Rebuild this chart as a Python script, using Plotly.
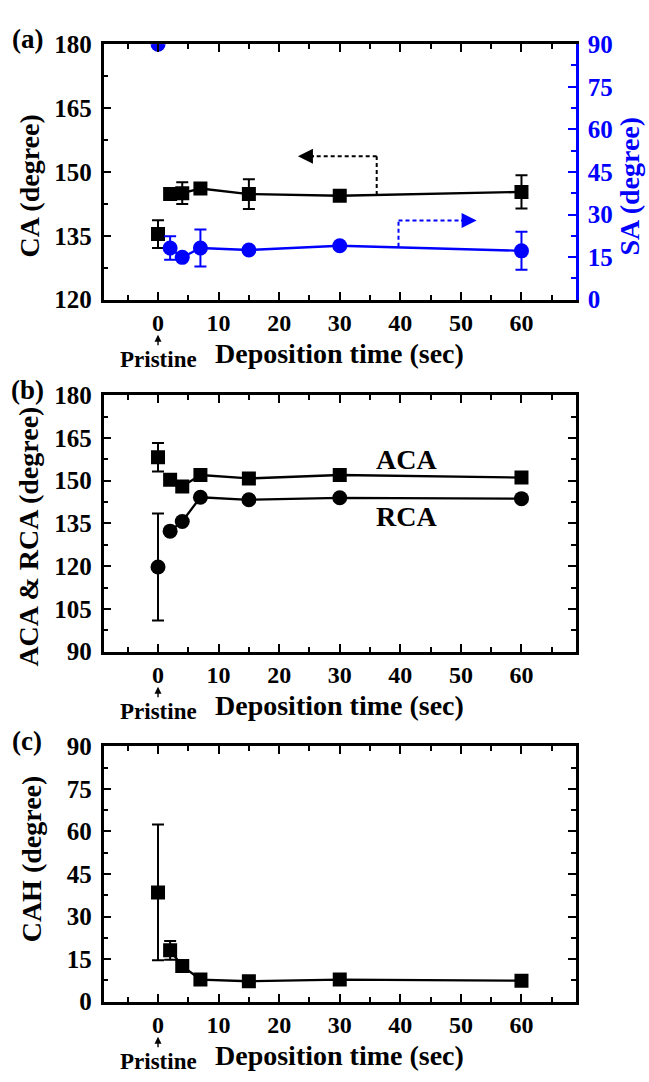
import plotly.graph_objects as go

# ---------------- data ----------------
time = [0, 2, 4, 7, 15, 30, 60]

ca = [135.4, 144.8, 145.0, 146.1, 144.8, 144.4, 145.3]
ca_err = [3.25, 0.8, 2.55, 0.8, 3.5, 0.8, 3.9]
sa = [90.0, 18.2, 14.9, 18.2, 17.5, 19.0, 17.2]
sa_err = [0.0, 4.1, 0.0, 6.5, 0.8, 0.0, 6.7]

aca = [158.2, 150.3, 148.0, 152.0, 150.8, 152.0, 151.1]
aca_err = [5.0, 0.8, 0.8, 0.8, 0.8, 0.8, 1.5]
rca = [119.7, 132.3, 135.7, 144.2, 143.3, 144.0, 143.7]
rca_err = [18.8, 0.5, 0.5, 0.8, 0.5, 0.5, 0.5]

cah = [38.5, 18.1, 12.6, 7.8, 7.2, 7.8, 7.4]
cah_err = [23.9, 3.3, 0.5, 0.5, 0.5, 0.5, 1.8]

x_ticks = [0, 10, 20, 30, 40, 50, 60]

W, H = 649, 1082
FONT = "Liberation Serif, Times New Roman, Times, serif"
BLUE = "#0000FF"


def px(xp):
    return xp / W


def py(yp):
    return 1 - yp / H


XDOM = [px(103.5), px(576)]
DOM_A = [py(294), py(32)]
DOM_B = [py(655), py(392)]
DOM_C = [py(1014), py(752)]
BOTTOMS = [294, 655, 1014]
TOPS = [32, 392, 752]

fig = go.Figure()


def add_series(x, y, err, xa, ya, color, symbol, size):
    # pristine point (not connected)
    fig.add_trace(go.Scatter(
        x=x[:1], y=y[:1], xaxis=xa, yaxis=ya, mode="markers",
        marker=dict(symbol=symbol, size=size, color=color),
        error_y=dict(type="data", array=err[:1], color=color, thickness=2, width=6),
        showlegend=False, cliponaxis=True))
    fig.add_trace(go.Scatter(
        x=x[1:], y=y[1:], xaxis=xa, yaxis=ya, mode="lines+markers",
        line=dict(color=color, width=2.3),
        marker=dict(symbol=symbol, size=size, color=color),
        error_y=dict(type="data", array=err[1:], color=color, thickness=2, width=6),
        showlegend=False, cliponaxis=True))


add_series(time, ca, ca_err, "x", "y", "black", "square", 14)
add_series(time, sa, sa_err, "x", "y2", BLUE, "circle", 15)
add_series(time, aca, aca_err, "x2", "y3", "black", "square", 14)
add_series(time, rca, rca_err, "x2", "y3", "black", "circle", 15)
add_series(time, cah, cah_err, "x3", "y4", "black", "square", 14)

tickfont = dict(family=FONT, size=24, color="black", weight="bold")


def xaxis_cfg(anchor):
    return dict(
        domain=XDOM, anchor=anchor, range=[-9, 69],
        tickmode="array", tickvals=x_ticks, ticktext=[str(v) for v in x_ticks],
        ticks="inside", ticklen=8, tickwidth=2, tickcolor="black",
        minor=dict(ticks="inside", dtick=5, tick0=0, ticklen=5, tickwidth=2, tickcolor="black"),
        showline=True, linecolor="black", linewidth=2.5, mirror="ticks",
        showgrid=False, zeroline=False, tickfont=tickfont, fixedrange=True)


def yaxis_cfg(dom, anchor, rng, mirror=True, color="black"):
    return dict(
        domain=dom, anchor=anchor, range=rng, dtick=15, tick0=rng[0],
        ticks="inside", ticklen=8, tickwidth=2, tickcolor=color,
        minor=dict(ticks="inside", dtick=7.5, tick0=rng[0], ticklen=5, tickwidth=2, tickcolor=color),
        showline=True, linecolor=color, linewidth=2.5,
        mirror="ticks" if mirror else False,
        ticklabelstandoff=4,
        showgrid=False, zeroline=False, tickfont=dict(tickfont, size=25, color=color))


fig.update_layout(
    width=W, height=H, autosize=False,
    margin=dict(l=0, r=0, t=0, b=0, pad=0),
    paper_bgcolor="white", plot_bgcolor="white",
    showlegend=False,
    font=dict(family=FONT),
    xaxis=xaxis_cfg("y"),
    xaxis2=xaxis_cfg("y3"),
    xaxis3=xaxis_cfg("y4"),
    yaxis=yaxis_cfg(DOM_A, "x", [120, 180], mirror=False),
    yaxis2=dict(yaxis_cfg(DOM_A, "x", [0, 90], mirror=False, color=BLUE),
                overlaying="y", side="right"),
    yaxis3=yaxis_cfg(DOM_B, "x2", [90, 180]),
    yaxis4=yaxis_cfg(DOM_C, "x3", [0, 90]),
)

ann = []
title_font = dict(family=FONT, size=28, color="black", weight="bold")
xc = (103.5 + 576) / 2

for i, (xa, bot, top, lab) in enumerate(zip(["x", "x2", "x3"], BOTTOMS, TOPS, ["(a)", "(b)", "(c)"])):
    ann.append(dict(text="Deposition time (sec)", x=px(xc), y=py(bot + 55), xref="paper", yref="paper",
                    xanchor="center", yanchor="middle", showarrow=False, font=title_font))
    ann.append(dict(text="Pristine", x=0, y=py(bot + 61), xref=xa, yref="paper",
                    xanchor="center", yanchor="middle", showarrow=False,
                    font=dict(family=FONT, size=23, color="black", weight="bold")))
    ann.append(dict(text="", x=0, y=py(bot + 36), xref=xa, yref="paper",
                    ax=0, ay=12, axref="pixel", ayref="pixel", showarrow=True,
                    arrowhead=2, arrowsize=1.0, arrowwidth=1.4, arrowcolor="black", standoff=0))
    ann.append(dict(text=lab, x=px(27), y=py(top - 5), xref="paper", yref="paper",
                    xanchor="center", yanchor="middle", showarrow=False,
                    font=dict(family=FONT, size=27, color="black", weight="bold")))

ytitles = [("CA (degree)", 30, 178), ("ACA &amp; RCA (degree)", 29, 537), ("CAH (degree)", 31, 868)]
for t, xp, yp in ytitles:
    ann.append(dict(text=t, x=px(xp), y=py(yp), xref="paper", yref="paper", textangle=-90,
                    xanchor="center", yanchor="middle", showarrow=False, font=title_font))
ann.append(dict(text="SA (degree)", x=px(630), y=py(178), xref="paper", yref="paper", textangle=-90,
                xanchor="center", yanchor="middle", showarrow=False,
                font=dict(title_font, color=BLUE)))

# ACA / RCA labels
ann.append(dict(text="ACA", x=41, y=157.4, xref="x2", yref="y3", showarrow=False,
                font=dict(family=FONT, size=28, color="black", weight="bold")))
ann.append(dict(text="RCA", x=41, y=137.4, xref="x2", yref="y3", showarrow=False,
                font=dict(family=FONT, size=28, color="black", weight="bold")))

# dashed arrows in (a)
shapes = [
    dict(type="line", xref="x", yref="y", x0=36.1, y0=144.6, x1=36.1, y1=153.7,
         line=dict(color="black", width=2, dash="4px,3px")),
    dict(type="line", xref="x", yref="y", x0=36.1, y0=153.7, x1=25.5, y1=153.7,
         line=dict(color="black", width=2, dash="4px,3px")),
    dict(type="line", xref="x", yref="y2", x0=39.7, y0=18.6, x1=39.7, y1=27.9,
         line=dict(color=BLUE, width=2, dash="4px,3px")),
    dict(type="line", xref="x", yref="y2", x0=39.7, y0=27.9, x1=50.5, y1=27.9,
         line=dict(color=BLUE, width=2, dash="4px,3px")),
]
ann.append(dict(text="", x=23.1, y=153.7, xref="x", yref="y", ax=26.0, ay=153.7,
                axref="x", ayref="y", showarrow=True, arrowhead=2, arrowsize=1.5,
                arrowwidth=2, arrowcolor="black", standoff=0))
ann.append(dict(text="", x=52.6, y=27.9, xref="x", yref="y2", ax=49.8, ay=27.9,
                axref="x", ayref="y2", showarrow=True, arrowhead=2, arrowsize=1.5,
                arrowwidth=2, arrowcolor=BLUE, standoff=0))

fig.update_layout(annotations=ann, shapes=shapes)

fig.write_html("out.html")
